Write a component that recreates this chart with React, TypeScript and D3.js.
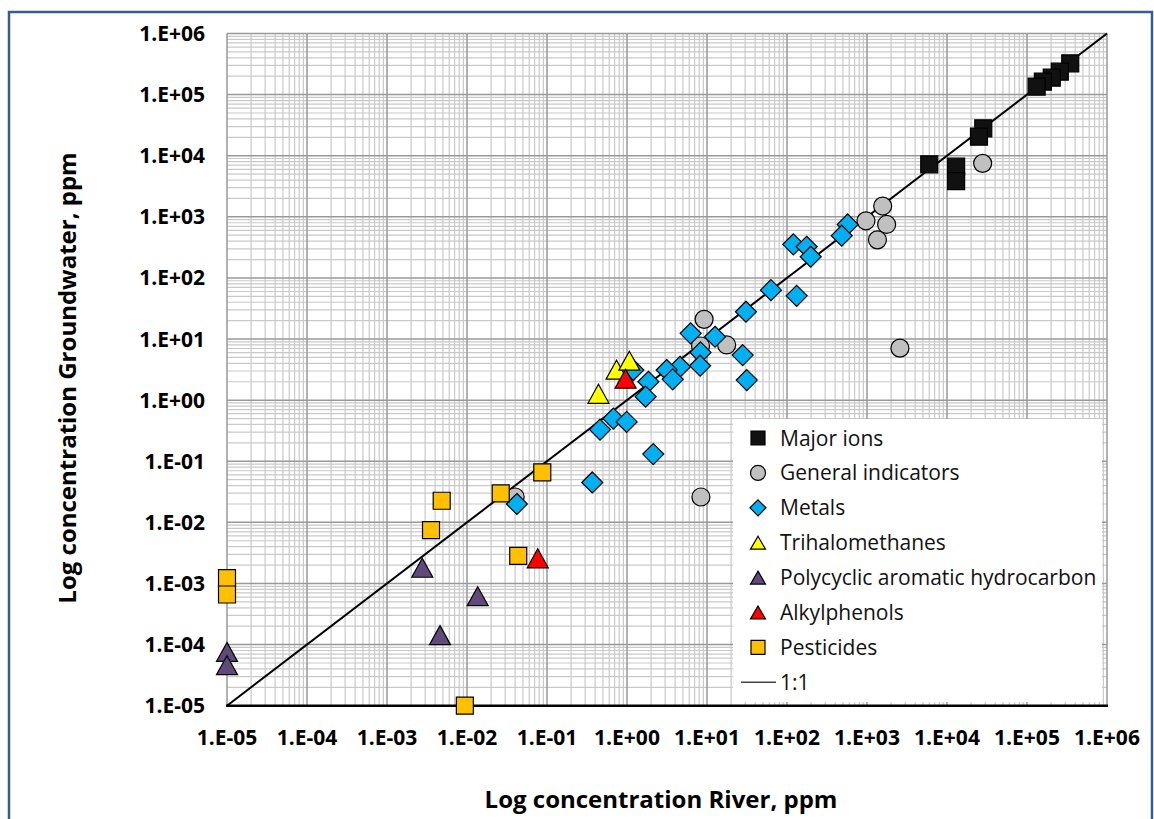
import React, { useEffect, useRef } from "react";
import * as d3 from "d3";

// [river, groundwater] in ppm
const majorIons = [
  [3.47e5, 3.25e5], [2.57e5, 2.37e5], [2.04e5, 1.89e5], [1.58e5, 1.63e5], [1.32e5, 1.35e5],
  [2.84e4, 2.81e4], [2.51e4, 2.05e4], [6.0e3, 7.23e3], [1.3e4, 6.61e3], [1.3e4, 3.85e3],
];
const generalIndicators = [
  [2.79e4, 7.5e3], [1.57e3, 1.5e3], [9.7e2, 8.6e2], [1.76e3, 7.5e2], [1.35e3, 4.2e2],
  [9.2, 21], [8.3, 7.7], [17.6, 8.0], [2.58e3, 7.1], [8.4, 0.026], [0.04, 0.026],
];
const metals = [
  [574, 750], [483, 491], [120, 355], [176, 324], [198, 222], [63, 63], [132, 51],
  [30.7, 28], [6.25, 12.4], [12.6, 10.9], [8.3, 6.05], [27.9, 5.47], [8.2, 3.66],
  [4.6, 3.52], [3.13, 3.11], [3.73, 2.19], [31.4, 2.13], [1.85, 2.0], [1.2, 3.11],
  [1.71, 1.14], [0.675, 0.5], [0.99, 0.44], [0.46, 0.33], [2.13, 0.131], [0.368, 0.045],
  [0.042, 0.02],
];
const trihalomethanes = [[0.44, 1.27], [0.74, 3.15], [1.07, 4.42]];
const pah = [[2.76e-3, 1.81e-3], [0.0136, 6.2e-4], [4.6e-3, 1.43e-4], [1e-5, 7.6e-5], [1e-5, 4.6e-5]];
const alkylphenols = [[0.96, 2.24], [0.0766, 2.58e-3]];
const pesticides = [
  [0.0873, 0.0658], [0.0264, 0.0298], [4.83e-3, 0.0226], [3.55e-3, 7.48e-3],
  [0.0437, 2.84e-3], [1e-5, 1.22e-3], [1e-5, 6.6e-4], [9.4e-3, 1e-5],
];

const seriesNames = [
  "Major ions", "General indicators", "Metals", "Trihalomethanes",
  "Polycyclic aromatic hydrocarbon", "Alkylphenols", "Pesticides",
];
const seriesData = [majorIons, generalIndicators, metals, trihalomethanes, pah, alkylphenols, pesticides];
const seriesShape = ["square", "circle", "diamond", "triangle", "triangle", "triangle", "square"];
const seriesColor = ["#111111", "#c0c0c0", "#00b0f0", "#ffff00", "#604a7b", "#ff0000", "#ffc000"];

const tickExps = d3.range(-5, 7);
const fmt = (e) => "1.E" + (e < 0 ? "-" : "+") + String(Math.abs(e)).padStart(2, "0");

function markerPath(shape, s) {
  const h = s / 2;
  if (shape === "square") return `M${-h},${-h}H${h}V${h}H${-h}Z`;
  if (shape === "circle") return d3.symbol(d3.symbolCircle, Math.PI * h * h)();
  if (shape === "diamond") return `M0,${-h - 1}L${h + 1},0L0,${h + 1}L${-h - 1},0Z`;
  return `M0,${-h}L${h + 1},${h}L${-h - 1},${h}Z`;
}

export default function App() {
  const svgRef = useRef();
  const width = 1154;
  const height = 819;

  useEffect(() => {
    const svg = d3.select(svgRef.current);
    svg.selectAll("*").remove();

    const x = d3.scaleLog().domain([1e-5, 1e6]).range([227, 1107]);
    const y = d3.scaleLog().domain([1e-5, 1e6]).range([705.7, 33.5]);

    // outer frame
    svg.append("rect")
      .attr("x", 9).attr("y", 12).attr("width", 1143).attr("height", 830)
      .attr("fill", "white").attr("stroke", "#385d8a").attr("stroke-width", 2.5);

    const grid = svg.append("g");
    const minor = [];
    for (let e = -5; e < 6; e++) for (let k = 2; k <= 9; k++) minor.push(k * Math.pow(10, e));
    const majors = tickExps.map(e => Math.pow(10, e));

    grid.selectAll(".mvx").data(minor).join("line")
      .attr("x1", d => x(d)).attr("x2", d => x(d)).attr("y1", y(1e-5)).attr("y2", y(1e6))
      .attr("stroke", "#c9c9c9").attr("stroke-width", 1.2);
    grid.selectAll(".mhy").data(minor).join("line")
      .attr("y1", d => y(d)).attr("y2", d => y(d)).attr("x1", x(1e-5)).attr("x2", x(1e6))
      .attr("stroke", "#c9c9c9").attr("stroke-width", 1.2);
    grid.selectAll(".Mvx").data(majors).join("line")
      .attr("x1", d => x(d)).attr("x2", d => x(d)).attr("y1", y(1e-5)).attr("y2", y(1e6))
      .attr("stroke", "#999").attr("stroke-width", 1.5);
    grid.selectAll(".Mhy").data(majors).join("line")
      .attr("y1", d => y(d)).attr("y2", d => y(d)).attr("x1", x(1e-5)).attr("x2", x(1e6))
      .attr("stroke", "#999").attr("stroke-width", 1.5);

    // bottom axis
    svg.append("line")
      .attr("x1", x(1e-5) - 1).attr("x2", x(1e6) + 1).attr("y1", y(1e-5)).attr("y2", y(1e-5))
      .attr("stroke", "#000").attr("stroke-width", 2.5);

    // 1:1 line
    svg.append("line")
      .attr("x1", x(1e-5)).attr("y1", y(1e-5)).attr("x2", x(1e6)).attr("y2", y(1e6))
      .attr("stroke", "#000").attr("stroke-width", 2);

    // legend box (drawn under markers)
    svg.append("rect")
      .attr("x", 733).attr("y", 419).attr("width", 369).attr("height", 283)
      .attr("fill", "white");

    seriesData.forEach((data, i) => {
      const size = seriesShape[i] === "circle" ? 18 : seriesShape[i] === "square" ? 17 : 19;
      svg.append("g").selectAll("path").data(data).join("path")
        .attr("d", markerPath(seriesShape[i], size))
        .attr("transform", d => `translate(${x(d[0])},${y(d[1])})`)
        .attr("fill", seriesColor[i])
        .attr("stroke", "#000").attr("stroke-width", 1.2);
    });

    // ticks
    const font = "'Open Sans', 'DejaVu Sans', sans-serif";
    svg.append("g").selectAll("text").data(tickExps).join("text")
      .attr("x", 205).attr("y", e => y(Math.pow(10, e)))
      .attr("dy", "0.36em").attr("text-anchor", "end")
      .attr("font-family", font).attr("font-weight", "bold").attr("font-size", 21)
      .text(fmt);
    svg.append("g").selectAll("text").data(tickExps).join("text")
      .attr("x", e => x(Math.pow(10, e))).attr("y", 745)
      .attr("text-anchor", "middle")
      .attr("font-family", font).attr("font-weight", "bold").attr("font-size", 21)
      .text(fmt);

    svg.append("text")
      .attr("x", 661).attr("y", 808).attr("text-anchor", "middle")
      .attr("font-family", font).attr("font-weight", "bold").attr("font-size", 24)
      .text("Log concentration River, ppm");
    svg.append("text")
      .attr("transform", "translate(76,378) rotate(-90)").attr("text-anchor", "middle")
      .attr("font-family", font).attr("font-weight", "bold").attr("font-size", 24)
      .text("Log concentration Groundwater, ppm");

    // legend
    const lg = svg.append("g");
    seriesNames.forEach((name, i) => {
      const cy = 438 + i * 34.9;
      const size = seriesShape[i] === "circle" ? 15 : 14;
      lg.append("path")
        .attr("d", markerPath(seriesShape[i], seriesShape[i] === "triangle" ? 13 : size))
        .attr("transform", `translate(758,${cy})`)
        .attr("fill", seriesColor[i]).attr("stroke", "#000").attr("stroke-width", 1.2);
      lg.append("text")
        .attr("x", 780).attr("y", cy).attr("dy", "0.36em")
        .attr("font-family", font).attr("font-size", 21).attr("fill", "#111")
        .text(name);
    });
    const ly = 438 + 7 * 34.9;
    lg.append("line").attr("x1", 741).attr("x2", 776).attr("y1", ly).attr("y2", ly)
      .attr("stroke", "#444").attr("stroke-width", 1.5);
    lg.append("text")
      .attr("x", 780).attr("y", ly).attr("dy", "0.36em")
      .attr("font-family", font).attr("font-size", 21).attr("fill", "#111")
      .text("1:1");
  }, []);

  return (
    <svg
      ref={svgRef}
      width={width}
      height={height}
      style={{ position: "absolute", left: 0, top: 0, background: "white" }}
    />
  );
}
